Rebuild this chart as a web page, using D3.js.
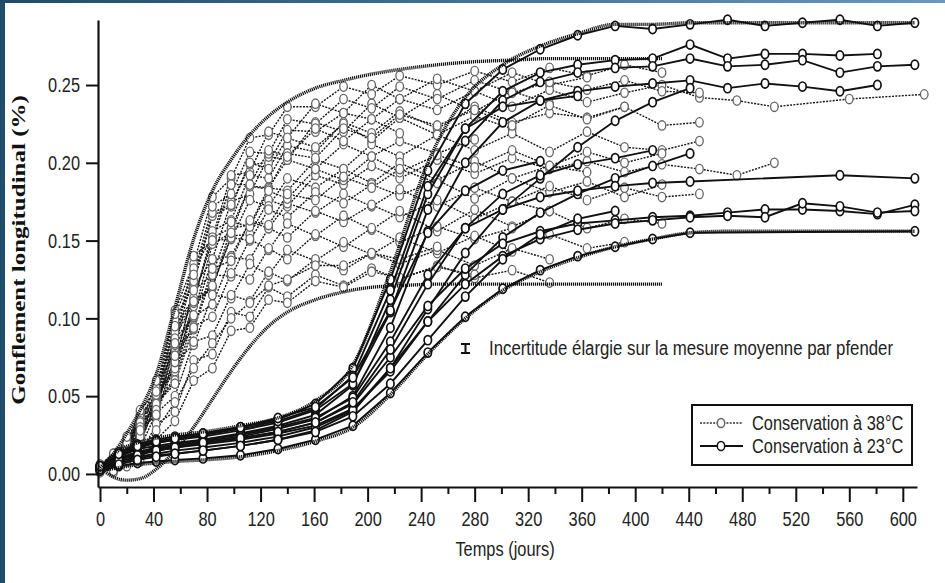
<!DOCTYPE html>
<html>
<head>
<meta charset="utf-8">
<script src="https://cdn.jsdelivr.net/npm/d3@7"></script>
<style>
  html, body { margin: 0; padding: 0; background: #fff; }
  svg { display: block; }
</style>
</head>
<body>
<svg id="chart" width="945" height="583"></svg>
<script>
// ---- Axis ticks ----
const xTicks = [0, 40, 80, 120, 160, 200, 240, 280, 320, 360, 400, 440, 480, 520, 560, 600];
const xMinorTicks = [20, 60, 100, 140, 180, 220, 260, 300, 340, 380, 420, 460, 500, 540, 580];
const yTicks = [0.00, 0.05, 0.10, 0.15, 0.20, 0.25];

// ---- Measurement days ----
const days38 = [0, 10, 20, 30, 42, 56, 70, 84, 98, 112, 126, 140, 161, 182, 203, 224, 252, 280, 308, 336, 364, 392, 420, 448, 476, 504, 532, 560, 588, 616];
const days23 = [0, 14, 28, 42, 56, 77, 105, 133, 161, 189, 217, 245, 273, 301, 329, 357, 385, 413, 441, 469, 497, 525, 553, 581, 609];

// ---- Storage at 38 °C : swelling (%) per specimen, aligned on days38 ----
const c38_01 = [0.003, 0.012, 0.020, 0.040, 0.055, 0.105, 0.135, 0.178, 0.190, 0.216, 0.218, 0.236, 0.236, 0.249, 0.244, 0.256, 0.250, 0.259, 0.252, 0.261, 0.256, 0.263, 0.258];
const c38_02 = [0.005, 0.006, 0.021, 0.027, 0.055, 0.080, 0.132, 0.152, 0.192, 0.194, 0.220, 0.216, 0.238, 0.232, 0.250, 0.241, 0.254, 0.246, 0.258, 0.250, 0.255];
const c38_03 = [0.002, 0.011, 0.017, 0.036, 0.048, 0.097, 0.122, 0.166, 0.172, 0.199, 0.200, 0.221, 0.220, 0.232, 0.228, 0.241, 0.234, 0.246, 0.236, 0.247, 0.239, 0.245, 0.250, 0.242, 0.240, 0.236, null, 0.241, null, 0.244];
const c38_04 = [0.004, 0.005, 0.018, 0.022, 0.049, 0.070, 0.120, 0.138, 0.175, 0.180, 0.204, 0.202, 0.226, 0.220, 0.238, 0.229, 0.244, 0.233, 0.246, 0.238];
const c38_05 = [0.003, 0.010, 0.014, 0.032, 0.042, 0.088, 0.110, 0.156, 0.163, 0.192, 0.190, 0.211, 0.207, 0.226, 0.219, 0.233, 0.222, 0.236, 0.226, 0.232, 0.229, 0.236, 0.224, 0.226];
const c38_06 = [0.005, 0.012, 0.017, 0.038, 0.051, 0.099, 0.124, 0.168, 0.173, 0.200, 0.196, 0.216, 0.210, 0.225, 0.214, 0.229, 0.218, 0.230, 0.222];
const c38_07 = [0.002, 0.004, 0.017, 0.021, 0.045, 0.062, 0.108, 0.120, 0.158, 0.160, 0.184, 0.182, 0.202, 0.196, 0.212, 0.204, 0.218, 0.208, 0.219, 0.207, 0.220, 0.210, 0.208, 0.214];
const c38_08 = [0.004, 0.011, 0.016, 0.035, 0.046, 0.091, 0.112, 0.152, 0.158, 0.185, 0.184, 0.202, 0.196, 0.212, 0.204, 0.214, 0.206, 0.215];
const c38_09 = [0.003, 0.005, 0.019, 0.024, 0.049, 0.066, 0.110, 0.120, 0.153, 0.154, 0.176, 0.172, 0.192, 0.186, 0.198, 0.190, 0.202, 0.193, 0.203, 0.196, 0.201, 0.194, 0.199, 0.196, 0.192, 0.200];
const c38_10 = [0.006, 0.013, 0.018, 0.038, 0.049, 0.095, 0.113, 0.150, 0.151, 0.176, 0.172, 0.190, 0.184, 0.196, 0.187, 0.200, 0.189, 0.201, 0.190, 0.198, 0.194];
const c38_11 = [0.003, 0.006, 0.020, 0.025, 0.050, 0.068, 0.111, 0.121, 0.152, 0.150, 0.170, 0.165, 0.181, 0.174, 0.186, 0.179, 0.189, 0.177, 0.190, 0.181, 0.188, 0.178, 0.186];
const c38_12 = [0.004, 0.012, 0.017, 0.036, 0.045, 0.087, 0.101, 0.138, 0.140, 0.162, 0.158, 0.174, 0.168, 0.180, 0.172, 0.183, 0.172, 0.184, 0.175, 0.185, 0.176, 0.184, 0.178, 0.180];
const c38_13 = [0.002, 0.004, 0.017, 0.020, 0.045, 0.060, 0.101, 0.109, 0.139, 0.138, 0.158, 0.152, 0.169, 0.162, 0.173, 0.165, 0.176, 0.164, 0.175, 0.169];
const c38_14 = [0.005, 0.012, 0.016, 0.034, 0.042, 0.081, 0.093, 0.128, 0.127, 0.151, 0.144, 0.161, 0.153, 0.166, 0.157, 0.169, 0.156, 0.170, 0.159, 0.169, 0.158, 0.164, 0.161];
const c38_15 = [0.003, 0.005, 0.018, 0.021, 0.045, 0.058, 0.095, 0.101, 0.129, 0.125, 0.145, 0.138, 0.154, 0.146, 0.158, 0.149, 0.159, 0.151, 0.158];
const c38_16 = [0.004, 0.010, 0.013, 0.030, 0.037, 0.072, 0.083, 0.115, 0.113, 0.135, 0.128, 0.144, 0.137, 0.149, 0.141, 0.152, 0.142, 0.153, 0.143, 0.154, 0.145, 0.149];
const c38_17 = [0.002, 0.003, 0.015, 0.017, 0.039, 0.050, 0.085, 0.089, 0.115, 0.111, 0.130, 0.124, 0.138, 0.131, 0.142, 0.135, 0.144, 0.134, 0.145, 0.138];
const c38_18 = [0.005, 0.002, 0.010, 0.012, 0.032, 0.040, 0.073, 0.077, 0.104, 0.101, 0.120, 0.114, 0.128, 0.121, 0.132, 0.125, 0.134, 0.126, 0.131, 0.123];
const c38_19 = [0.004, 0.011, 0.015, 0.033, 0.041, 0.083, 0.102, 0.148, 0.155, 0.185, 0.183, 0.206, 0.203, 0.222, 0.216, 0.231, 0.224, 0.234, 0.224, 0.237, 0.228, 0.236];
const c38_20 = [0.003, 0.006, 0.020, 0.024, 0.051, 0.072, 0.118, 0.128, 0.162, 0.159, 0.182, 0.177, 0.196, 0.189, 0.204, 0.194, 0.205, 0.197, 0.208, 0.198, 0.207, 0.200, 0.206];
const c38_21 = [0.004, 0.013, 0.020, 0.041, 0.053, 0.103, 0.128, 0.172, 0.180, 0.207, 0.206, 0.228, 0.225, 0.241, 0.235, 0.249, 0.241, 0.253, 0.245, 0.252, 0.247, 0.253, 0.246, 0.245];
const c38_22 = [0.006, 0.009, 0.024, 0.030, 0.060, 0.084, 0.140, 0.150, 0.186, 0.186, 0.208, 0.204, 0.222, 0.214, 0.228, 0.219];
const c38_23 = [0.001, 0.007, 0.012, 0.028, 0.038, 0.076, 0.094, 0.132, 0.137, 0.163, 0.160, 0.180, 0.176, 0.191, 0.184, 0.196, 0.187];
const c38_24 = [0.004, 0.001, 0.005, 0.008, 0.022, 0.034, 0.060, 0.068, 0.092, 0.094, 0.112, 0.110, 0.124, 0.120, 0.130, 0.126, 0.133, 0.128];
const c38_25 = [0.003, 0.002, 0.008, 0.014, 0.028, 0.046, 0.068, 0.084, 0.100, 0.110, 0.121, 0.125, 0.134, 0.134, 0.142, 0.138, 0.146];

// Upper and lower bounds of the 38 °C family
const env38Hi = [0.003, 0.013, 0.026, 0.041, 0.064, 0.107, 0.151, 0.182, 0.202, 0.218, 0.230, 0.239, 0.248, 0.253, 0.257, 0.260, 0.263, 0.265, 0.266, 0.267, 0.267, 0.267, 0.267];
const env38Lo = [0.004, -0.002, -0.004, -0.003, 0.003, 0.015, 0.030, 0.048, 0.066, 0.082, 0.095, 0.104, 0.112, 0.117, 0.120, 0.121, 0.122, 0.122, 0.122, 0.122, 0.122, 0.122, 0.122];

// ---- Storage at 23 °C : swelling (%) per specimen, aligned on days23 ----
const c23_01 = [0.004, 0.014, 0.019, 0.022, 0.024, 0.026, 0.030, 0.035, 0.045, 0.068, 0.125, 0.195, 0.238, 0.260, 0.273, 0.282, 0.288, 0.286, 0.289, 0.292, 0.288, 0.290, 0.292, 0.288, 0.290];
const c23_02 = [0.003, 0.010, 0.014, 0.017, 0.019, 0.022, 0.026, 0.031, 0.038, 0.057, 0.112, 0.180, 0.222, 0.246, 0.258, 0.263, 0.266, 0.267, 0.276, 0.267, 0.270, 0.270, 0.269, 0.270];
const c23_03 = [0.005, 0.012, 0.017, 0.020, 0.022, 0.024, 0.028, 0.033, 0.041, 0.058, 0.104, 0.170, 0.214, 0.240, 0.252, 0.258, 0.261, 0.262, 0.267, 0.262, 0.263, 0.266, 0.258, 0.262, 0.263];
const c23_04 = [0.004, 0.010, 0.014, 0.016, 0.018, 0.021, 0.024, 0.029, 0.035, 0.050, 0.094, 0.156, 0.200, 0.226, 0.240, 0.246, 0.249, 0.251, 0.253, 0.248, 0.251, 0.249, 0.246, 0.250];
const c23_05 = [0.003, 0.007, 0.010, 0.012, 0.013, 0.015, 0.018, 0.022, 0.028, 0.040, 0.068, 0.106, 0.142, 0.170, 0.190, 0.210, 0.227, 0.239, 0.248];
const c23_06 = [0.004, 0.009, 0.013, 0.015, 0.017, 0.019, 0.022, 0.026, 0.031, 0.042, 0.066, 0.098, 0.128, 0.152, 0.168, 0.180, 0.190, 0.198, 0.206];
const c23_07 = [0.005, 0.011, 0.016, 0.018, 0.020, 0.022, 0.025, 0.030, 0.036, 0.049, 0.085, 0.128, 0.158, 0.170, 0.178, 0.182, 0.185, 0.187, 0.188, null, null, null, 0.192, null, 0.190];
const c23_08 = [0.004, 0.009, 0.013, 0.015, 0.017, 0.020, 0.023, 0.027, 0.033, 0.045, 0.075, 0.108, 0.132, 0.148, 0.156, 0.161, 0.163, 0.165, 0.166, 0.168, 0.170, 0.170, 0.169, 0.167, 0.173];
const c23_09 = [0.003, 0.008, 0.011, 0.013, 0.015, 0.017, 0.020, 0.024, 0.030, 0.041, 0.068, 0.098, 0.122, 0.140, 0.151, 0.157, 0.161, 0.163, 0.165, 0.166, 0.165, 0.174, 0.172, 0.168, 0.169];
const c23_10 = [0.002, 0.005, 0.007, 0.008, 0.009, 0.010, 0.012, 0.016, 0.022, 0.031, 0.052, 0.078, 0.101, 0.119, 0.131, 0.140, 0.146, 0.151, 0.155, null, null, null, null, null, 0.156];
const c23_11 = [0.004, 0.012, 0.017, 0.020, 0.022, 0.025, 0.029, 0.034, 0.042, 0.063, 0.118, 0.185, 0.222, 0.236, 0.240, 0.243];
const c23_12 = [0.004, 0.009, 0.012, 0.015, 0.017, 0.020, 0.023, 0.027, 0.033, 0.046, 0.080, 0.122, 0.158, 0.180, 0.192, 0.199, 0.203, 0.208];
const c23_13 = [0.003, 0.006, 0.009, 0.011, 0.013, 0.015, 0.018, 0.022, 0.027, 0.037, 0.058, 0.086, 0.114, 0.138, 0.154, 0.164, 0.169];
const c23_14 = [0.005, 0.013, 0.018, 0.021, 0.023, 0.026, 0.030, 0.036, 0.043, 0.062, 0.105, 0.155, 0.182, 0.195, 0.201];

// Upper and lower bounds of the 23 °C family
const env23Hi = [0.004, 0.015, 0.020, 0.023, 0.025, 0.027, 0.031, 0.036, 0.047, 0.070, 0.130, 0.200, 0.242, 0.263, 0.275, 0.283, 0.289, 0.289, 0.290, 0.290, 0.290, 0.290, 0.290, 0.290, 0.290];
const env23Lo = [0.002, 0.004, 0.006, 0.007, 0.008, 0.009, 0.011, 0.015, 0.021, 0.030, 0.051, 0.077, 0.100, 0.118, 0.130, 0.139, 0.146, 0.151, 0.155, 0.156, 0.156, 0.156, 0.156, 0.156, 0.156];

const series38 = [c38_01, c38_02, c38_03, c38_04, c38_05, c38_06, c38_07, c38_08, c38_09, c38_10, c38_11, c38_12, c38_13,
                  c38_14, c38_15, c38_16, c38_17, c38_18, c38_19, c38_20, c38_21, c38_22, c38_23, c38_24, c38_25];
const series23 = [c23_01, c23_02, c23_03, c23_04, c23_05, c23_06, c23_07, c23_08, c23_09, c23_10, c23_11,
                  c23_12, c23_13, c23_14];

// ---- Texts ----
const yTitle = "Gonflement longitudinal (%)";
const xTitle = "Temps (jours)";
const legendLabels = ["Conservation à 38°C", "Conservation à 23°C"];
const noteText = "Incertitude élargie sur la mesure moyenne par pfender";

// ---- Layout ----
const svg = d3.select("#chart");
const SX = 0.78;                       // narrow letterforms of the original typesetting
const sansFont = "'Liberation Sans', Arial, sans-serif";

const x = d3.scaleLinear().domain([-1.5, 610.6]).range([98, 917]);
const y = d3.scaleLinear().domain([-0.0084, 0.2918]).range([487, 20]);

// slide frame
const grad = svg.append("defs").append("linearGradient").attr("id", "topbar");
grad.append("stop").attr("offset", "0%").attr("stop-color", "#1f4b68");
grad.append("stop").attr("offset", "100%").attr("stop-color", "#6898bd");
svg.append("rect").attr("x", 0).attr("y", 0).attr("width", 945).attr("height", 3).attr("fill", "url(#topbar)");
svg.append("rect").attr("x", 0).attr("y", 0).attr("width", 5).attr("height", 583).attr("fill", "#1f4d6b");

const toPoints = (days, vals) => vals.map((v, i) => [days[i], v]).filter(p => p[1] !== null);

const segLine = d3.line().x(p => x(p[0])).y(p => y(p[1]));
const envLine = d3.line().x(p => x(p[0])).y(p => y(p[1])).curve(d3.curveMonotoneX);

const plot = svg.append("g");

// 38 °C specimens: dotted lines, grey open markers
const g38 = plot.append("g");
series38.forEach(vals => {
  g38.append("path").attr("d", segLine(toPoints(days38, vals)))
    .attr("fill", "none").attr("stroke", "#161616").attr("stroke-width", 1.4)
    .attr("stroke-dasharray", "2,1.3");
});
series38.forEach(vals => {
  const pts = toPoints(days38, vals);
  g38.selectAll(null).data(pts).join("ellipse")
    .attr("cx", p => x(p[0])).attr("cy", p => y(p[1]))
    .attr("rx", 3.8).attr("ry", 4.7)
    .attr("fill", "#fff").attr("stroke", "#666").attr("stroke-width", 1.3);
});

// hatched bound curves
function drawBound(days, vals) {
  plot.append("path").attr("d", envLine(toPoints(days, vals)))
    .attr("fill", "none").attr("stroke", "#111").attr("stroke-width", 3.4)
    .attr("stroke-dasharray", "1.2,0.8");
}
drawBound(days38, env38Hi);
drawBound(days38, env38Lo);

// 23 °C specimens: solid lines, black open markers
const g23 = plot.append("g");
series23.forEach(vals => {
  g23.append("path").attr("d", segLine(toPoints(days23, vals)))
    .attr("fill", "none").attr("stroke", "#111").attr("stroke-width", 1.9);
});
drawBound(days23, env23Hi);
drawBound(days23, env23Lo);
series23.forEach(vals => {
  const pts = toPoints(days23, vals);
  g23.selectAll(null).data(pts).join("ellipse")
    .attr("cx", p => x(p[0])).attr("cy", p => y(p[1]))
    .attr("rx", 3.7).attr("ry", 4.6)
    .attr("fill", "#fff").attr("stroke", "#111").attr("stroke-width", 1.7);
});

// ---- Axes ----
const xAxisG = svg.append("g").attr("transform", "translate(0,487)")
  .call(d3.axisBottom(x).tickValues(xTicks).tickSize(15).tickSizeOuter(0).tickPadding(9).tickFormat(d3.format("d")));
svg.append("g").attr("transform", "translate(0,487)")
  .call(d3.axisBottom(x).tickValues(xMinorTicks).tickSize(7).tickSizeOuter(0).tickFormat(""))
  .call(g => g.select(".domain").remove());
const yAxisG = svg.append("g").attr("transform", "translate(98,0)")
  .call(d3.axisLeft(y).tickValues(yTicks).tickSize(12).tickSizeOuter(0).tickPadding(6).tickFormat(d3.format(".2f")));

svg.selectAll(".domain").attr("stroke", "#111").attr("stroke-width", 2.2);
svg.selectAll(".tick line").attr("stroke", "#111").attr("stroke-width", 2);
xAxisG.selectAll("text").attr("font-family", sansFont).attr("font-size", 21).attr("fill", "#222")
  .attr("transform", `scale(${SX},1)`);
yAxisG.selectAll("text").attr("font-family", sansFont).attr("font-size", 21).attr("fill", "#222")
  .attr("x", -18 / SX).attr("transform", `scale(${SX},1)`);

// axis titles
svg.append("text").attr("transform", `translate(505,556) scale(${SX},1)`)
  .attr("text-anchor", "middle").attr("font-family", sansFont).attr("font-size", 21).attr("fill", "#222")
  .text(xTitle);
svg.append("text").attr("transform", `translate(25,250) scale(${SX},1) rotate(-90)`)
  .attr("text-anchor", "middle").attr("font-family", "'Liberation Serif', 'Times New Roman', serif")
  .attr("font-weight", "bold").attr("font-size", 25).attr("fill", "#111")
  .text(yTitle);

// uncertainty note
svg.append("path").attr("d", "M461,344H470M465.5,344V353M461,353H470")
  .attr("stroke", "#111").attr("stroke-width", 2).attr("fill", "none");
svg.append("text").attr("transform", `translate(489,355) scale(0.8,1)`)
  .attr("font-family", sansFont).attr("font-size", 21).attr("fill", "#222")
  .text(noteText);

// ---- Legend ----
const lg = svg.append("g");
lg.append("rect").attr("x", 692).attr("y", 405).attr("width", 220).attr("height", 60)
  .attr("fill", "#fff").attr("stroke", "#111").attr("stroke-width", 2);
const rows = [
  { y: 423, dash: "2,1.3", lineW: 1.3, mark: "#666", line: "#333" },
  { y: 446, dash: null, lineW: 1.9, mark: "#111", line: "#111" }
];
rows.forEach((r, i) => {
  lg.append("line").attr("x1", 700).attr("x2", 743).attr("y1", r.y).attr("y2", r.y)
    .attr("stroke", r.line).attr("stroke-width", r.lineW).attr("stroke-dasharray", r.dash);
  lg.append("ellipse").attr("cx", 721).attr("cy", r.y).attr("rx", 3.7).attr("ry", 4.6)
    .attr("fill", "#fff").attr("stroke", r.mark).attr("stroke-width", 1.5);
  lg.append("text").attr("transform", `translate(752,${r.y + 7}) scale(${SX},1)`)
    .attr("font-family", sansFont).attr("font-size", 21).attr("fill", "#222")
    .text(legendLabels[i]);
});
</script>
</body>
</html>
